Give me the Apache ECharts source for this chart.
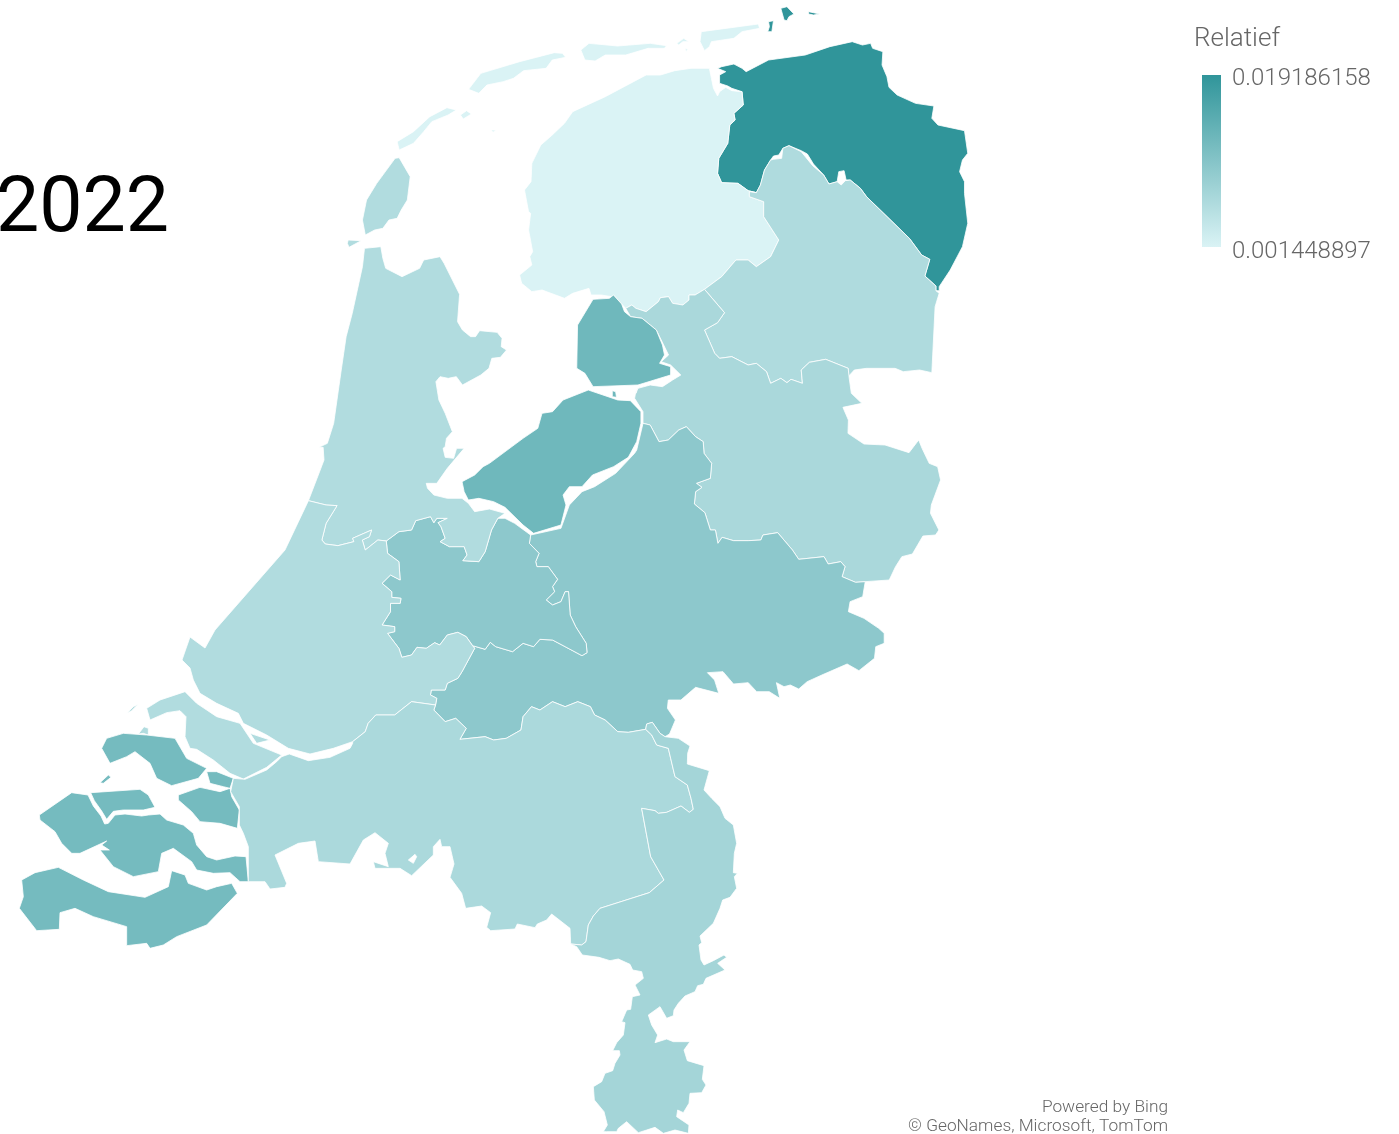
<!DOCTYPE html>
<html>
<head>
<meta charset="utf-8">
<title>Relatief 2022</title>
<style>
  html, body { margin: 0; padding: 0; background: #fff; }
  #main { width: 1399px; height: 1134px; }
</style>
<script src="https://cdn.jsdelivr.net/npm/echarts@6/dist/echarts.min.js"></script>
</head>
<body>
<div id="main"></div>
<script>
// data
var provinces = ['Groningen', 'Friesland', 'Drenthe', 'Overijssel', 'Flevoland', 'Gelderland', 'Utrecht', 'Noord-Holland', 'Zuid-Holland', 'Zeeland', 'Noord-Brabant', 'Limburg'];
var relatief = [0.019186158, 0.001448897, 0.00594, 0.00645, 0.01262, 0.00948, 0.00948, 0.00572, 0.00572, 0.01198, 0.00634, 0.00709];
var minValue = 0.001448897;
var maxValue = 0.019186158;
var lowColor = '#DAF3F5';
var highColor = '#30959A';
var yearLabel = '2022';
var legendTitle = 'Relatief';
var attribution = ['Powered by Bing', '\u00a9 GeoNames, Microsoft, TomTom'];

function crop(ox, oy, sx, sy) {
  return function () {
    var out = [];
    for (var i = 0; i < arguments.length; i += 2) {
      out.push([ox + arguments[i] / sx, oy + arguments[i + 1] / sy]);
    }
    return out;
  };
}
var a = crop(340, 0, 2.45, 3);
var b = crop(300, 370, 2.376, 3);
var c = crop(0, 680, 3, 3);
var d = crop(400, 720, 3, 3);
var p = crop(0, 0, 1, 1);
function rev(line) { return line.slice().reverse(); }
function ring() { return [].concat.apply([], arguments); }

// shared borders
var edgeGroFri = a(1020,578, 1000,572, 975,550, 935,548, 925,520, 928,475, 950,430, 955,375, 968,360, 965,340, 988,315, 985,275);
// the two sides differ here: small lakes leave white between Groningen and Drenthe
var edgeGroDre = a(1020,578, 1030,555, 1040,510, 1055,480, 1062,468, 1075,465, 1085,445, 1100,437, 1130,452, 1145,462, 1160,492, 1185,525, 1198,552, 1218,545, 1222,515, 1235,512, 1240,540, 1250,540, 1275,565, 1290,590, 1395,715, 1425,765, 1445,778, 1433,828, 1460,858, 1460,872);
var edgeDreGro = a(1020,578, 1030,555, 1040,510, 1055,480, 1062,478, 1082,475, 1085,445, 1100,437, 1130,455, 1140,470, 1158,497, 1185,525, 1198,552, 1218,545, 1228,555, 1238,542, 1250,540, 1275,565, 1290,590, 1395,715, 1425,765, 1445,778, 1433,828, 1460,858, 1460,872);
var edgeFriDre = a(893,868, 935,830, 970,780, 1000,780, 1020,800, 1055,770, 1075,720, 1038,650, 1038,605, 1003,590, 1003,575, 1020,578);
var edgeFriOve = a(893,868, 870,885, 855,885, 855,900, 840,915, 815,910, 805,890, 785,893, 780,905, 750,935, 725,925, 715,915, 700,925);
var edgeDreOve = a(1245,1105, 1190,1078, 1150,1087, 1130,1110, 1133,1150, 1105,1138, 1095,1148, 1080,1135, 1055,1150, 1045,1115, 1020,1090, 1000,1095, 960,1070, 930,1075, 918,1060, 893,990, 925,968, 942,938, 893,868);
var edgeOveGel = b(815,160, 832,165, 853,215, 875,210, 900,180, 918,170, 940,200, 958,215, 960,250, 978,280, 975,325, 942,340, 955,352, 940,365, 937,402, 962,428, 975,480, 987,480, 993,520, 1003,502, 1030,512, 1065,512, 1095,510, 1100,495, 1135,488, 1170,540, 1185,568, 1245,560, 1255,582, 1285,575, 1295,590, 1288,620, 1320,637, 1343,635);
var edgeGelUtr = b(410,827, 440,838, 452,817, 465,830, 505,845, 530,820, 555,830, 570,808, 600,810, 630,830, 670,857, 682,848, 680,820, 655,770, 642,735, 638,665, 630,665, 620,695, 600,705, 585,690, 605,665, 600,650, 612,628, 590,590, 563,590, 560,575, 568,550, 545,520, 548,495);
var edgeNhUtr = b(470,445, 455,480, 440,545, 425,575, 387,572, 397,555, 390,530, 355,530, 333,515, 345,505, 335,470, 328,458, 350,445, 325,445, 318,458, 310,440, 275,452, 265,480, 235,485, 205,513);
var edgeNhZh = b(20,392, 62,405, 88,407, 62,460, 52,510, 60,522, 90,527, 128,515, 125,505, 170,480, 165,500, 148,510, 155,540, 185,510, 205,513);
var edgeZhUtr = b(205,513, 208,550, 235,575, 238,630, 215,615, 195,640, 218,665, 218,682, 240,685, 238,700, 215,700, 215,725, 195,765, 225,770, 225,785, 208,790, 235,835, 242,862, 265,855, 278,832, 300,835, 320,818, 332,825, 350,795, 375,787, 395,800, 410,827);
var edgeZhGel = b(410,827, 415,835, 385,905, 375,925, 350,940, 345,960, 312,960, 310,975, 325,985, 322,1005);
var edgeZhNb = b(322,1005, 265,995, 225,1035, 180,1035, 162,1060, 155,1085, 125,1115);
var edgeNbGel = b(322,1005, 318,1020, 345,1055, 370,1045, 395,1075, 380,1108, 440,1100, 460,1110, 490,1105, 525,1080, 530,1040, 550,1010, 570,1020, 600,995, 630,1010, 660,995, 690,1010, 700,1035, 725,1050, 755,1085, 780,1087).concat(d(737,28));
var edgeNbLim = d(512,672, 545,675, 558,665, 565,615, 580,588, 600,565, 748,518, 792,480, 752,410, 725,265, 765,272, 775,280, 800,277, 843,258, 868,277, 880,268, 873,235, 862,195, 825,170, 812,115, 805,85, 770,75, 755,45, 737,28);
var edgeLimGel = d(795,50, 780,40, 757,7, 740,12, 737,28);

var shapes = {
  'Groningen': [
    [ring(
      a(935,200, 965,192, 985,205, 995,215, 1050,180, 1140,165, 1200,140, 1255,125, 1280,135, 1300,130, 1305,145, 1330,155, 1328,195, 1340,230, 1345,262, 1365,285, 1410,310, 1455,318, 1450,355, 1465,375, 1530,392, 1538,460, 1525,480, 1518,515, 1530,545, 1530,580, 1538,670, 1525,740, 1495,810, 1468,860, 1468,872),
      rev(edgeGroDre), edgeGroFri,
      a(960,265, 950,258, 930,250, 930,225, 945,215, 925,205)
    )],
    [a(1080,25, 1095,20, 1112,42, 1100,50, 1095,62, 1088,60)],
    [a(1148,35, 1175,42, 1160,45, 1148,42)],
    [a(1050,65, 1062,62, 1058,95, 1048,95, 1052,80)]
  ],
  'Friesland': [
    [ring(
      a(905,205, 860,205, 820,212, 785,225, 750,225, 650,290, 570,335, 550,370, 520,405, 492,435, 470,490, 468,545, 452,570, 462,635, 467,640, 462,690, 472,755, 465,770, 470,795, 440,825, 445,850, 470,875, 495,870, 550,895, 570,880, 610,865, 615,885, 640,885, 665,890, 670,885, 690,912, 700,925),
      rev(edgeFriOve), edgeFriDre, edgeGroFri,
      a(960,272, 945,262, 930,275, 925,288, 915,265, 910,235)
    )],
    [a(315,268, 345,220, 440,185, 525,158, 545,160, 553,172, 520,180, 505,205, 450,212, 425,235, 400,245, 360,255, 340,280)],
    [a(140,425, 180,395, 220,350, 262,323, 285,330, 265,345, 225,365, 205,395, 180,430, 145,450)],
    [a(295,345, 310,332, 322,342, 302,357)],
    [a(370,390, 382,390, 375,397)],
    [a(590,150, 610,130, 680,138, 760,130, 800,137, 795,145, 755,145, 700,165, 650,165, 625,183, 600,180)],
    [a(885,95, 1025,72, 1028,85, 985,95, 965,115, 910,125, 905,140, 893,152, 882,125)],
    [a(825,130, 842,115, 855,125, 840,125, 830,135)],
    [a(845,145, 852,148, 848,155)]
  ],
  'Drenthe': [
    [ring(
      edgeDreGro,
      a(1468,880, 1458,920, 1450,1118, 1420,1110, 1380,1115, 1360,1105, 1290,1105, 1260,1110, 1245,1130),
      edgeDreOve, edgeFriDre
    )]
  ],
  'Overijssel': [
    [ring(
      edgeFriOve,
      a(712,950, 740,955, 760,975, 775,990, 793,1035, 805,1065, 787,1085, 810,1095, 835,1125, 815,1140, 790,1160, 760,1155, 730,1165, 725,1180),
      b(800,50, 795,85, 815,125),
      edgeOveGel,
      b(1400,630, 1415,590, 1430,560, 1455,552, 1480,498, 1510,495, 1518,480, 1498,430, 1500,405, 1522,330, 1515,290, 1495,280, 1478,235, 1470,210, 1447,248, 1390,225, 1340,222, 1302,190, 1303,150, 1290,112, 1335,100, 1310,70, 1305,25),
      edgeDreOve
    )]
  ],
  'Flevoland': [
    [a(620,898, 660,895, 670,885, 690,912, 697,935, 712,950, 740,955, 760,975, 775,990, 790,1035, 795,1065, 783,1090, 810,1100, 810,1125, 730,1155, 620,1160, 600,1120, 580,1105, 582,975)],
    [b(685,60, 755,90, 785,92, 810,125, 810,160, 800,215, 780,262, 745,290, 695,315, 670,350, 640,350, 625,375, 632,405, 620,465, 555,490, 530,465, 487,412, 460,395, 425,385, 400,390, 390,365, 385,335, 415,315, 435,290, 450,280, 530,205, 565,175, 575,130, 600,125, 625,90)],
    [b(742,62, 750,65, 752,82, 742,80)]
  ],
  'Gelderland': [
    [ring(
      b(548,495, 620,475, 640,405, 670,365, 700,350, 750,310, 795,250, 800,240),
      edgeOveGel,
      b(1337,680, 1307,695, 1303,725, 1340,745, 1375,775, 1388,790, 1388,820, 1368,830, 1365,865, 1328,902, 1300,882, 1240,915, 1205,935, 1185,957, 1165,945, 1150,950, 1132,938, 1140,985, 1115,965, 1085,965, 1065,938, 1030,942, 1005,905, 968,908, 985,930, 995,970, 940,952, 905,990, 875,990, 873,1015, 892,1050, 878,1092),
      edgeLimGel, rev(edgeNbGel), rev(edgeZhGel), edgeGelUtr
    )]
  ],
  'Utrecht': [
    [ring(edgeGelUtr, b(510,460, 487,445), edgeNhUtr, edgeZhUtr)]
  ],
  'Noord-Holland': [
    [ring(
      a(60,745, 100,740, 105,775, 112,805, 152,830, 195,805, 205,780, 245,770, 255,790, 293,883, 288,965, 300,990, 320,1010, 332,1010, 342,992, 385,997, 397,1015, 395,1040, 408,1050, 393,1072, 372,1075, 365,1105, 345,1125, 300,1155, 285,1130, 265,1135, 245,1130, 235,1145),
      b(330,90, 345,130, 362,185, 348,205, 345,230, 340,235, 345,262, 365,265, 372,235, 390,235, 350,295, 325,340, 300,340, 303,355, 318,375, 350,385, 385,385, 400,400, 415,425, 450,417, 487,430),
      edgeNhUtr, rev(edgeNhZh),
      b(45,310, 57,270, 55,232, 45,232, 65,220, 80,160, 98,0),
      a(5,1110, 15,1010, 30,940, 55,800)
    )],
    [a(135,475, 145,473, 172,530, 165,600, 150,630, 140,655, 120,660, 105,685, 85,690, 62,705, 55,660, 65,600, 90,550)],
    [a(20,720, 52,722, 22,742, 18,730)]
  ],
  'Zuid-Holland': [
    [ring(
      edgeNhZh, edgeZhUtr, edgeZhGel, edgeZhNb,
      c(1000,205, 930,222, 865,205, 800,165, 730,130, 715,100, 650,70, 600,40, 580,0),
      p(190,668, 182,660, 190,637, 205,648, 215,630, 250,590, 285,550)
    )],
    [c(440,85, 480,60, 555,35, 590,70, 650,110, 720,130, 760,190, 845,225, 800,262, 730,297, 690,280, 640,240, 590,208, 570,205, 555,170, 558,110, 540,92, 500,98, 450,120)],
    [c(750,160, 810,180, 770,190)],
    [c(415,162, 432,140, 445,145, 445,165, 430,160)],
    [c(380,100, 400,80, 415,72, 395,92)]
  ],
  'Zeeland': [
    [c(305,205, 320,175, 370,160, 440,165, 525,175, 560,235, 620,265, 595,295, 515,317, 470,295, 450,250, 405,215, 380,230, 330,250)],
    [c(300,308, 325,285, 333,292, 310,310)],
    [c(620,275, 650,275, 700,295, 690,325, 670,320, 630,310)],
    [c(535,345, 600,322, 660,335, 690,325, 695,350, 718,390, 712,445, 660,430, 600,425, 575,395, 535,360)],
    [c(272,338, 420,328, 445,345, 465,382, 430,390, 370,390, 340,394, 320,418, 305,393, 283,362)],
    [c(118,405, 215,338, 264,345, 280,378, 303,408, 314,432, 325,430, 345,405, 375,402, 425,408, 445,405, 480,402, 500,420, 550,435, 580,460, 590,495, 620,530, 650,540, 705,528, 738,530, 745,605, 720,605, 690,578, 640,580, 590,570, 575,545, 520,505, 485,520, 475,575, 400,590, 340,560, 300,510, 328,510, 305,495, 320,483, 240,520, 215,520, 185,490, 165,455, 120,420)],
    [c(65,600, 105,578, 175,562, 250,600, 325,635, 435,652, 505,620, 515,572, 555,585, 565,610, 620,630, 650,620, 695,610, 712,640, 620,735, 530,770, 490,795, 450,805, 440,790, 380,797, 380,740, 280,710, 225,685, 180,698, 178,748, 110,752, 58,685, 70,650)]
  ],
  'Noord-Brabant': [
    [ring(
      edgeNbGel, rev(edgeNbLim),
      d(510,625, 455,582, 440,600, 412,612, 405,623, 352,612, 345,627, 272,632, 260,622, 272,578, 245,558, 197,565, 185,520, 150,472, 162,432, 150,380, 125,380, 120,358, 100,380, 100,405, 35,467, 0,445),
      c(1200,565, 1125,565, 1120,545, 1165,560, 1155,520, 1165,490, 1125,458, 1090,480, 1050,552, 955,545, 945,483, 895,490, 825,525, 860,610, 855,622, 810,627, 795,605, 745,605, 745,500, 730,460, 718,435, 718,380, 692,335, 700,295, 735,298, 800,270, 830,245, 845,230, 868,222, 925,242, 990,232, 1050,205, 1058,190),
      rev(edgeZhNb)
    ), d(40,430, 50,410, 45,403, 25,420)]
  ],
  'Limburg': [
    [ring(
      edgeNbLim, rev(edgeLimGel),
      d(835,55, 870,78, 863,100, 862,132, 928,152, 912,210, 935,235, 960,260, 975,295, 1000,315, 1010,370, 1003,400, 1000,458, 1012,460, 1003,470, 1010,505, 990,532, 968,540, 960,565, 940,610, 900,648, 905,668, 897,675, 903,720, 912,735, 940,722, 972,705, 980,712, 953,730, 975,750, 918,775, 910,793, 893,797, 885,815, 855,828, 835,850, 822,870, 820,887, 800,895, 780,860, 745,885, 755,915, 773,945, 765,968, 800,957, 820,965, 870,965, 852,990, 862,1022, 912,1037, 907,1078, 918,1095, 905,1118, 870,1120, 867,1150, 850,1178, 833,1170, 830,1190, 867,1215, 865,1240, 825,1230, 790,1240, 765,1222, 740,1230, 715,1238, 680,1205, 655,1225, 650,1235, 620,1235, 610,1235, 622,1215, 612,1175, 583,1140, 580,1100, 605,1085, 615,1060, 638,1052, 645,1030, 660,1005, 658,992, 638,992, 650,968, 670,945, 675,908, 665,905, 680,870, 692,868, 697,830, 720,825, 705,795, 730,775, 725,755, 698,750, 690,733, 655,717, 630,722, 597,712, 547,705, 530,680)
    )]
  ]
};

var features = provinces.map(function (name) {
  return {
    type: 'Feature',
    properties: { name: name },
    geometry: { type: 'MultiPolygon', coordinates: shapes[name] }
  };
});
echarts.registerMap('NL', { type: 'FeatureCollection', features: features });

var chart = echarts.init(document.getElementById('main'));
var greyText = '#666666';
var option = {
  animation: false,
  title: {
    text: yearLabel,
    left: -4,
    top: 173,
    padding: 0,
    textStyle: { fontFamily: 'Roboto', fontSize: 77, fontWeight: 400, color: '#000' }
  },
  // the scale is drawn as a plain rect below, the library's bar has rounded corners
  visualMap: {
    type: 'continuous',
    show: false,
    min: minValue,
    max: maxValue,
    inRange: { color: [lowColor, highColor] }
  },
  series: [{
    type: 'map',
    map: 'NL',
    silent: true,
    left: 0,
    top: 0,
    width: 1399,
    height: 1134,
    projection: {
      project: function (pt) { return pt; },
      unproject: function (pt) { return pt; }
    },
    boundingCoords: [[0, 0], [1399, 1134]],
    label: { show: false },
    itemStyle: { borderColor: '#fff', borderWidth: 0.8 },
    data: provinces.map(function (name, i) {
      return { name: name, value: relatief[i] };
    })
  }],
  graphic: [
    { type: 'rect', x: 1202, y: 75, shape: { width: 19, height: 172 }, style: {
      fill: new echarts.graphic.LinearGradient(0, 0, 0, 1, [
        { offset: 0, color: highColor },
        { offset: 1, color: lowColor }
      ])
    } },
    { type: 'text', x: 1194, y: 39, style: { text: legendTitle, fontFamily: 'Roboto', fontWeight: 300, fontSize: 26, fill: greyText, textVerticalAlign: 'middle' } },
    { type: 'text', x: 1232, y: 79, style: { text: String(maxValue), fontFamily: 'Roboto', fontWeight: 300, fontSize: 24, fill: greyText, textVerticalAlign: 'middle' } },
    { type: 'text', x: 1232, y: 252, style: { text: String(minValue), fontFamily: 'Roboto', fontWeight: 300, fontSize: 24, fill: greyText, textVerticalAlign: 'middle' } },
    { type: 'text', x: 1168, y: 1108, style: { text: attribution[0], fontFamily: 'Roboto', fontWeight: 300, fontSize: 17.3, fill: greyText, textAlign: 'right', textVerticalAlign: 'middle' } },
    { type: 'text', x: 1168, y: 1127, style: { text: attribution[1], fontFamily: 'Roboto', fontWeight: 300, fontSize: 17.3, fill: greyText, textAlign: 'right', textVerticalAlign: 'middle' } }
  ]
};
chart.setOption(option);
</script>
</body>
</html>
